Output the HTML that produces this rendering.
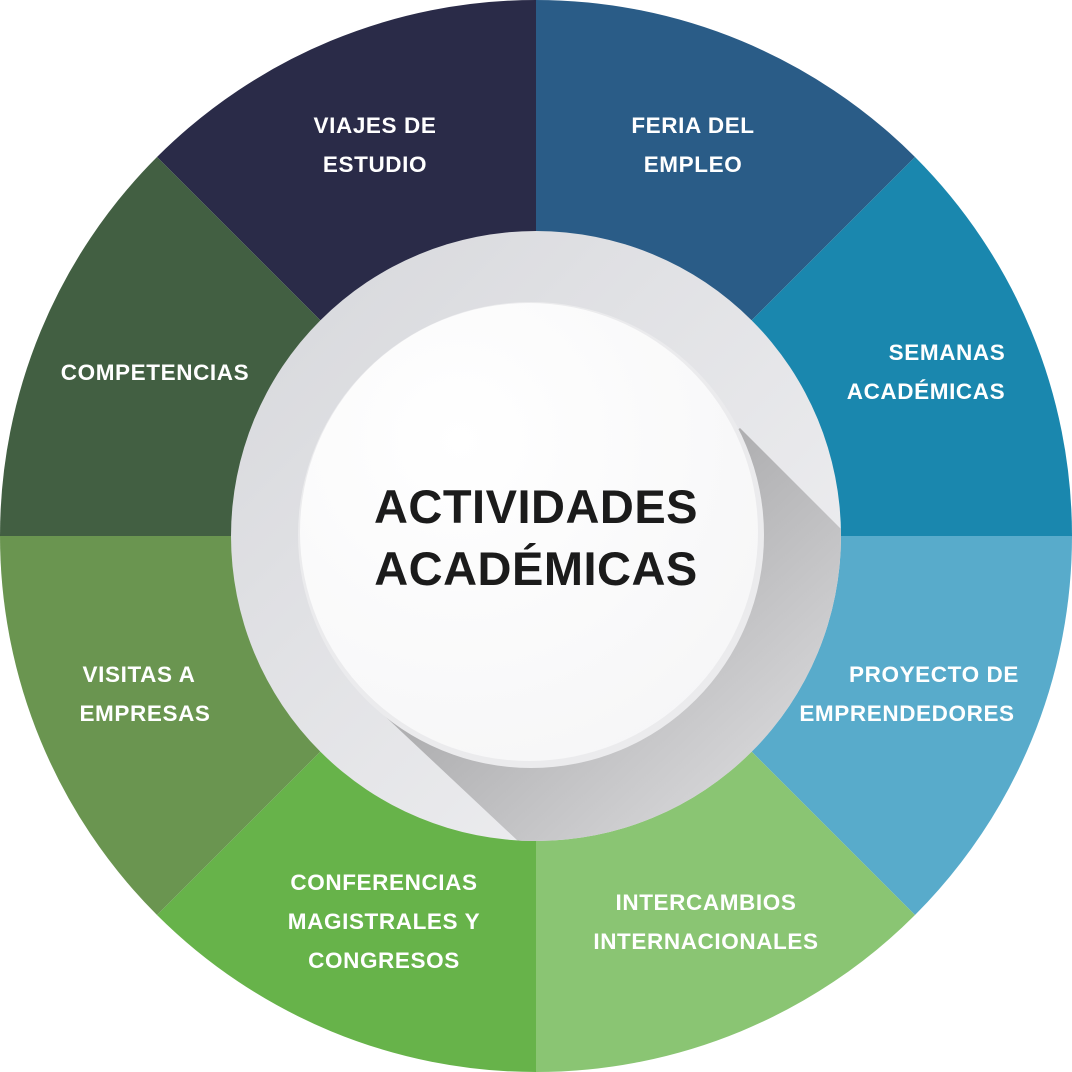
<!DOCTYPE html>
<html><head><meta charset="utf-8"><style>
html,body{margin:0;padding:0;background:#fff}
svg{display:block}
text{font-family:"Liberation Sans",sans-serif;font-weight:bold}
</style></head><body>
<svg width="1072" height="1072" viewBox="0 0 1072 1072" xmlns="http://www.w3.org/2000/svg">
<defs>
<linearGradient id="ring" x1="0" y1="0" x2="1" y2="1">
<stop offset="0" stop-color="#d6d7db"/><stop offset="1" stop-color="#f2f2f4"/>
</linearGradient>
<linearGradient id="sh" x1="0.3" y1="0.3" x2="0.75" y2="0.75">
<stop offset="0" stop-color="#b0b0b2"/><stop offset="1" stop-color="#e8e8ea"/>
</linearGradient>
<radialGradient id="wc" cx="0.35" cy="0.3" r="0.8">
<stop offset="0" stop-color="#ffffff"/><stop offset="1" stop-color="#f6f6f7"/>
</radialGradient>
<clipPath id="rc"><circle cx="536" cy="536" r="305"/></clipPath>
</defs>
<path d="M536 536 L536 0 A536 536 0 0 0 157 157 Z" fill="#2a2b48"/>
<path d="M536 536 L536 0 A536 536 0 0 1 915 157 Z" fill="#2a5c87"/>
<path d="M536 536 L915 157 A536 536 0 0 1 1072 536 Z" fill="#1a87ae"/>
<path d="M536 536 L1072 536 A536 536 0 0 1 915 915 Z" fill="#58abcb"/>
<path d="M536 536 L915 915 A536 536 0 0 1 536 1072 Z" fill="#8ac573"/>
<path d="M536 536 L536 1072 A536 536 0 0 1 157 915 Z" fill="#67b34a"/>
<path d="M536 536 L157 915 A536 536 0 0 1 0 536 Z" fill="#6a9550"/>
<path d="M536 536 L0 536 A536 536 0 0 1 157 157 Z" fill="#425f42"/>
<circle cx="536" cy="536" r="305" fill="url(#ring)"/>
<g clip-path="url(#rc)">
<polygon points="740,428 1010,698 698,1010 372,704" fill="url(#sh)"/>
</g>
<circle cx="531" cy="535" r="233" fill="#ebebed"/>
<circle cx="529" cy="532" r="229" fill="url(#wc)"/>
<g fill="#1b1b1b" font-size="47" text-anchor="middle" letter-spacing="0.5">
<text x="536" y="523">ACTIVIDADES</text>
<text x="536" y="585">ACADÉMICAS</text>
</g>
<g fill="#ffffff" font-size="22.5" text-anchor="middle" letter-spacing="0.6">
<text x="375" y="133">VIAJES DE</text><text x="375" y="172">ESTUDIO</text>
<text x="693" y="133">FERIA DEL</text><text x="693" y="172">EMPLEO</text>
<text x="947" y="360">SEMANAS</text><text x="926" y="399">ACADÉMICAS</text>
<text x="934" y="682">PROYECTO DE</text><text x="907" y="721">EMPRENDEDORES</text>
<text x="706" y="910">INTERCAMBIOS</text><text x="706" y="949">INTERNACIONALES</text>
<text x="384" y="890">CONFERENCIAS</text><text x="384" y="929">MAGISTRALES Y</text><text x="384" y="968">CONGRESOS</text>
<text x="139" y="682">VISITAS A</text><text x="145" y="721">EMPRESAS</text>
<text x="155" y="380">COMPETENCIAS</text>
</g>
</svg>
</body></html>
